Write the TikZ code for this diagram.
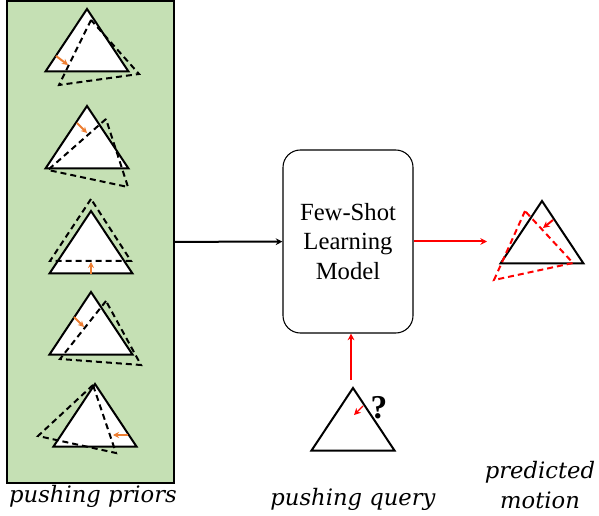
\documentclass[tikz,border=0pt]{standalone}
\usepackage{fontspec}
\setmainfont{Liberation Serif}
\newfontfamily\captionfont{DejaVu Serif}
\usetikzlibrary{arrows.meta}

\definecolor{panelgreen}{HTML}{C5E0B4}
\definecolor{pushorange}{HTML}{ED7D31}
\definecolor{predred}{HTML}{FF0000}

\tikzset{
  panel/.style={draw=black, line width=0.8pt, fill=panelgreen, inner sep=0pt},
  modelbox/.style={draw=black, line width=0.8pt, fill=white, rounded corners=13pt,
    inner sep=0pt, align=center, font=\fontsize{18.5}{22}\selectfont},
  solidtri/.style={draw=black, line width=1.5pt, fill=white, line join=miter},
  dashtri/.style={line width=1.5pt, dash pattern=on 4.5pt off 3pt},
  pusharrow/.style={line width=1.5pt, pushorange, -{Stealth[length=4.5pt,width=4.5pt]}},
  predarrow/.style={line width=1.5pt, predred, -{Stealth[length=5pt,width=5pt]}},
  flow/.style={line width=1.5pt, -{Stealth[length=5pt,width=5pt]}},
  caption/.style={anchor=base, align=center,
    font=\captionfont\fontsize{17}{22.5}\selectfont\itshape},
  pics/block/.style={code={
    \draw[solidtri] (0,0) -- (-41.5,62.5) -- (41.5,62.5) -- cycle;
  }}
}

\begin{document}
\begin{tikzpicture}[x=0.75pt,y=-0.75pt]
\useasboundingbox (0,0) rectangle (599,516);

% left column: the prior pushes
\node[panel, minimum width=125.25pt, minimum height=361.5pt] (priors) at (90.5,242) {};

\foreach \ax/\ay in {87/9, 87/106, 91/211, 91/292, 95/384}
  \pic at (\ax,\ay) {block};

% poses after each push
\draw[dashtri] (91,20) -- (59,85) -- (139,74) -- cycle;
\draw[dashtri] (106,119) -- (48,170) -- (128,187) -- cycle;
\draw[dashtri] (91,199) -- (50,261) -- (131,261) -- cycle;
\draw[dashtri] (106,301) -- (60,359) -- (141,365) -- cycle;
\draw[dashtri] (93,385) -- (38,436) -- (116,453) -- cycle;

% push directions
\draw[pusharrow] (56,56) -- (68,65);
\draw[pusharrow] (77,123) -- (87,133);
\draw[pusharrow] (91,274) -- (91,262);
\draw[pusharrow] (74,317) -- (84,327);
\draw[pusharrow] (128,435) -- (113,435);

% model
\node[modelbox, minimum width=97.5pt, minimum height=137.25pt] (model) at (348,241.5)
  {Few-Shot\\Learning\\Model};

\draw[flow] (priors) -- (model);

% query push
\pic at (353,388) {block};
\draw[predarrow, line width=1pt] (363,406) -- (354,415);
\node[font=\fontsize{25}{30}\selectfont\bfseries, inner sep=0pt] (qmark) at (379,408) {?};
\coordinate (qtop) at (351,380);
\draw[predarrow] (qtop) -- (qtop |- model.south);

% predicted outcome
\coordinate (predin) at (487,241.5);
\draw[predarrow] (model) -- (predin);
\pic at (542,201) {block};
\draw[dashtri, predred] (525,211) -- (494,280) -- (573,263) -- cycle;
\draw[predarrow] (553,220) -- (543,228);

% captions
\node[caption] (lblpriors) at (93,502) {pushing priors};
\node[caption] (lblquery) at (353,505) {pushing query};
\node[caption] (lblpred) at (540,508) {predicted\\motion};
\end{tikzpicture}
\end{document}
